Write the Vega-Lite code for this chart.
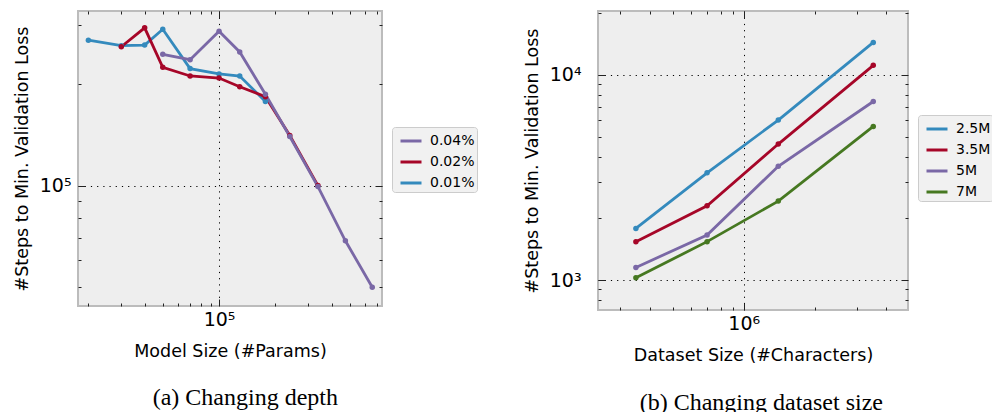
{
  "$schema": "https://vega.github.io/schema/vega-lite/v6.json",
  "background": "white",
  "padding": {"left": 12, "top": 3, "right": 0, "bottom": 0},
  "datasets": {
    "depth": [
      {"series": "0.01%", "x": 20000, "y": 271000},
      {"series": "0.01%", "x": 30000, "y": 261000},
      {"series": "0.01%", "x": 40000, "y": 262000},
      {"series": "0.01%", "x": 50000, "y": 292000},
      {"series": "0.01%", "x": 70000, "y": 223000},
      {"series": "0.01%", "x": 100000, "y": 215000},
      {"series": "0.01%", "x": 129000, "y": 212000},
      {"series": "0.01%", "x": 177000, "y": 178000},
      {"series": "0.02%", "x": 30000, "y": 259000},
      {"series": "0.02%", "x": 40000, "y": 295000},
      {"series": "0.02%", "x": 50000, "y": 225000},
      {"series": "0.02%", "x": 70000, "y": 212000},
      {"series": "0.02%", "x": 100000, "y": 209000},
      {"series": "0.02%", "x": 129000, "y": 197000},
      {"series": "0.02%", "x": 177000, "y": 184000},
      {"series": "0.02%", "x": 239000, "y": 141000},
      {"series": "0.02%", "x": 338000, "y": 100000},
      {"series": "0.04%", "x": 50000, "y": 246000},
      {"series": "0.04%", "x": 70000, "y": 237000},
      {"series": "0.04%", "x": 100000, "y": 288000},
      {"series": "0.04%", "x": 129000, "y": 250000},
      {"series": "0.04%", "x": 177000, "y": 187000},
      {"series": "0.04%", "x": 239000, "y": 140000},
      {"series": "0.04%", "x": 338000, "y": 99300},
      {"series": "0.04%", "x": 474000, "y": 68500},
      {"series": "0.04%", "x": 660000, "y": 49800}
    ],
    "dsize": [
      {"series": "2.5M", "x": 350000, "y": 1787},
      {"series": "2.5M", "x": 700000, "y": 3334},
      {"series": "2.5M", "x": 1400000, "y": 6030},
      {"series": "2.5M", "x": 3530000, "y": 14410},
      {"series": "3.5M", "x": 350000, "y": 1540},
      {"series": "3.5M", "x": 700000, "y": 2302},
      {"series": "3.5M", "x": 1400000, "y": 4605},
      {"series": "3.5M", "x": 3530000, "y": 11140},
      {"series": "5M", "x": 350000, "y": 1152},
      {"series": "5M", "x": 700000, "y": 1660},
      {"series": "5M", "x": 1400000, "y": 3590},
      {"series": "5M", "x": 3530000, "y": 7425},
      {"series": "7M", "x": 350000, "y": 1026},
      {"series": "7M", "x": 700000, "y": 1540},
      {"series": "7M", "x": 1400000, "y": 2427},
      {"series": "7M", "x": 3530000, "y": 5610}
    ]
  },
  "config": {
    "font": "DejaVu Sans",
    "view": {"fill": "#eeeeee", "stroke": "#bcbcbc", "strokeWidth": 2},
    "axis": {
      "labelFont": "DejaVu Sans",
      "labelFontSize": 19,
      "labelColor": "black",
      "titleFont": "DejaVu Sans",
      "titleFontSize": 17.5,
      "titleFontWeight": "normal",
      "titleColor": "black",
      "domain": false,
      "tickColor": "#222222",
      "tickWidth": 1,
      "labelOverlap": false,
      "labelFlush": false,
      "gridColor": "black",
      "gridDash": [1.2, 5],
      "gridWidth": 1
    },
    "legend": {
      "labelFont": "DejaVu Sans",
      "labelFontSize": 14,
      "labelColor": "black",
      "symbolType": "stroke",
      "symbolSize": 441,
      "symbolStrokeWidth": 3,
      "symbolOffset": 5,
      "labelOffset": 7,
      "rowPadding": 2,
      "padding": 2,
      "fillColor": "#f1f1f1",
      "strokeColor": "#cccccc",
      "cornerRadius": 3
    },
    "title": {
      "font": "Liberation Serif",
      "fontSize": 24,
      "fontWeight": "normal",
      "color": "black"
    },
    "concat": {"spacing": 43}
  },
  "resolve": {"scale": {"color": "independent"}},
  "hconcat": [
    {
      "width": 304,
      "height": 295,
      "title": {"text": "(a) Changing depth", "orient": "bottom", "offset": 26, "frame": "bounds"},
      "layer": [
        {
          "data": {"name": "depth"},
          "mark": {"type": "line", "strokeWidth": 2.8, "point": {"filled": true, "size": 30}},
          "encoding": {
            "x": {
              "field": "x", "type": "quantitative",
              "scale": {"type": "log", "domain": [17600, 744000], "nice": false},
              "axis": {
                "title": "Model Size (#Params)",
                "values": [20000, 30000, 40000, 50000, 60000, 70000, 80000, 90000, 100000, 200000, 300000, 400000, 500000, 600000, 700000],
                "labelExpr": "datum.value == 100000 ? '10⁵' : ''",
                "tickSize": {"condition": {"test": "datum.value == 100000", "value": -7}, "value": -3},
                "gridOpacity": {"condition": {"test": "datum.value == 100000", "value": 1}, "value": 0},
                "labelPadding": 11,
                "titlePadding": 9
              }
            },
            "y": {
              "field": "y", "type": "quantitative",
              "scale": {"type": "log", "domain": [43800, 331000], "nice": false},
              "axis": {
                "title": "#Steps to Min. Validation Loss",
                "values": [50000, 60000, 70000, 80000, 90000, 100000, 200000, 300000],
                "labelExpr": "datum.value == 100000 ? '10⁵' : ''",
                "tickSize": {"condition": {"test": "datum.value == 100000", "value": -7}, "value": -3},
                "gridOpacity": {"condition": {"test": "datum.value == 100000", "value": 1}, "value": 0},
                "labelPadding": 14,
                "titlePadding": 8
              }
            },
            "color": {
              "field": "series", "type": "nominal",
              "scale": {"domain": ["0.04%", "0.02%", "0.01%"], "range": ["#7A68A6", "#A60628", "#348ABD"]},
              "legend": {"title": null, "orient": "none", "legendX": 314, "legendY": 116}
            }
          }
        },
        {
          "data": {"name": "depth"},
          "mark": {"type": "line", "opacity": 0},
          "encoding": {
            "x": {
              "field": "x", "type": "quantitative",
              "scale": {"type": "log", "domain": [17600, 744000], "nice": false},
              "axis": {
                "orient": "top", "title": null, "labels": false, "grid": false,
                "values": [20000, 30000, 40000, 50000, 60000, 70000, 80000, 90000, 100000, 200000, 300000, 400000, 500000, 600000, 700000],
                "tickSize": {"condition": {"test": "datum.value == 100000", "value": -7}, "value": -3}
              }
            },
            "y": {
              "field": "y", "type": "quantitative",
              "scale": {"type": "log", "domain": [43800, 331000], "nice": false},
              "axis": {
                "orient": "right", "title": null, "labels": false, "grid": false,
                "values": [50000, 60000, 70000, 80000, 90000, 100000, 200000, 300000],
                "tickSize": {"condition": {"test": "datum.value == 100000", "value": -7}, "value": -3}
              }
            }
          }
        }
      ],
      "resolve": {"axis": {"x": "independent", "y": "independent"}}
    },
    {
      "width": 310,
      "height": 299,
      "title": {"text": "(b) Changing dataset size", "orient": "bottom", "offset": 27, "frame": "bounds", "dx": 3},
      "layer": [
        {
          "data": {"name": "dsize"},
          "mark": {"type": "line", "strokeWidth": 2.8, "point": {"filled": true, "size": 30}},
          "encoding": {
            "x": {
              "field": "x", "type": "quantitative",
              "scale": {"type": "log", "domain": [242000, 4950000], "nice": false},
              "axis": {
                "title": "Dataset Size (#Characters)",
                "values": [300000, 400000, 500000, 600000, 700000, 800000, 900000, 1000000, 2000000, 3000000, 4000000],
                "labelExpr": "datum.value == 1000000 ? '10⁶' : ''",
                "tickSize": {"condition": {"test": "datum.value == 1000000", "value": -7}, "value": -3},
                "gridOpacity": {"condition": {"test": "datum.value == 1000000", "value": 1}, "value": 0},
                "labelPadding": 11,
                "titlePadding": 9
              }
            },
            "y": {
              "field": "y", "type": "quantitative",
              "scale": {"type": "log", "domain": [715, 20500], "nice": false},
              "axis": {
                "title": "#Steps to Min. Validation Loss",
                "values": [800, 900, 1000, 2000, 3000, 4000, 5000, 6000, 7000, 8000, 9000, 10000, 20000],
                "labelExpr": "datum.value == 1000 ? '10³' : datum.value == 10000 ? '10⁴' : ''",
                "tickSize": {"condition": {"test": "datum.value == 1000 || datum.value == 10000", "value": -7}, "value": -3},
                "gridOpacity": {"condition": {"test": "datum.value == 1000 || datum.value == 10000", "value": 1}, "value": 0},
                "labelPadding": 24,
                "titlePadding": 8
              }
            },
            "color": {
              "field": "series", "type": "nominal",
              "scale": {"domain": ["2.5M", "3.5M", "5M", "7M"], "range": ["#348ABD", "#A60628", "#7A68A6", "#467821"]},
              "legend": {"title": null, "orient": "none", "legendX": 320, "legendY": 104}
            }
          }
        },
        {
          "data": {"name": "dsize"},
          "mark": {"type": "line", "opacity": 0},
          "encoding": {
            "x": {
              "field": "x", "type": "quantitative",
              "scale": {"type": "log", "domain": [242000, 4950000], "nice": false},
              "axis": {
                "orient": "top", "title": null, "labels": false, "grid": false,
                "values": [300000, 400000, 500000, 600000, 700000, 800000, 900000, 1000000, 2000000, 3000000, 4000000],
                "tickSize": {"condition": {"test": "datum.value == 1000000", "value": -7}, "value": -3}
              }
            },
            "y": {
              "field": "y", "type": "quantitative",
              "scale": {"type": "log", "domain": [715, 20500], "nice": false},
              "axis": {
                "orient": "right", "title": null, "labels": false, "grid": false,
                "values": [800, 900, 1000, 2000, 3000, 4000, 5000, 6000, 7000, 8000, 9000, 10000, 20000],
                "tickSize": {"condition": {"test": "datum.value == 1000 || datum.value == 10000", "value": -7}, "value": -3}
              }
            }
          }
        }
      ],
      "resolve": {"axis": {"x": "independent", "y": "independent"}}
    }
  ]
}
